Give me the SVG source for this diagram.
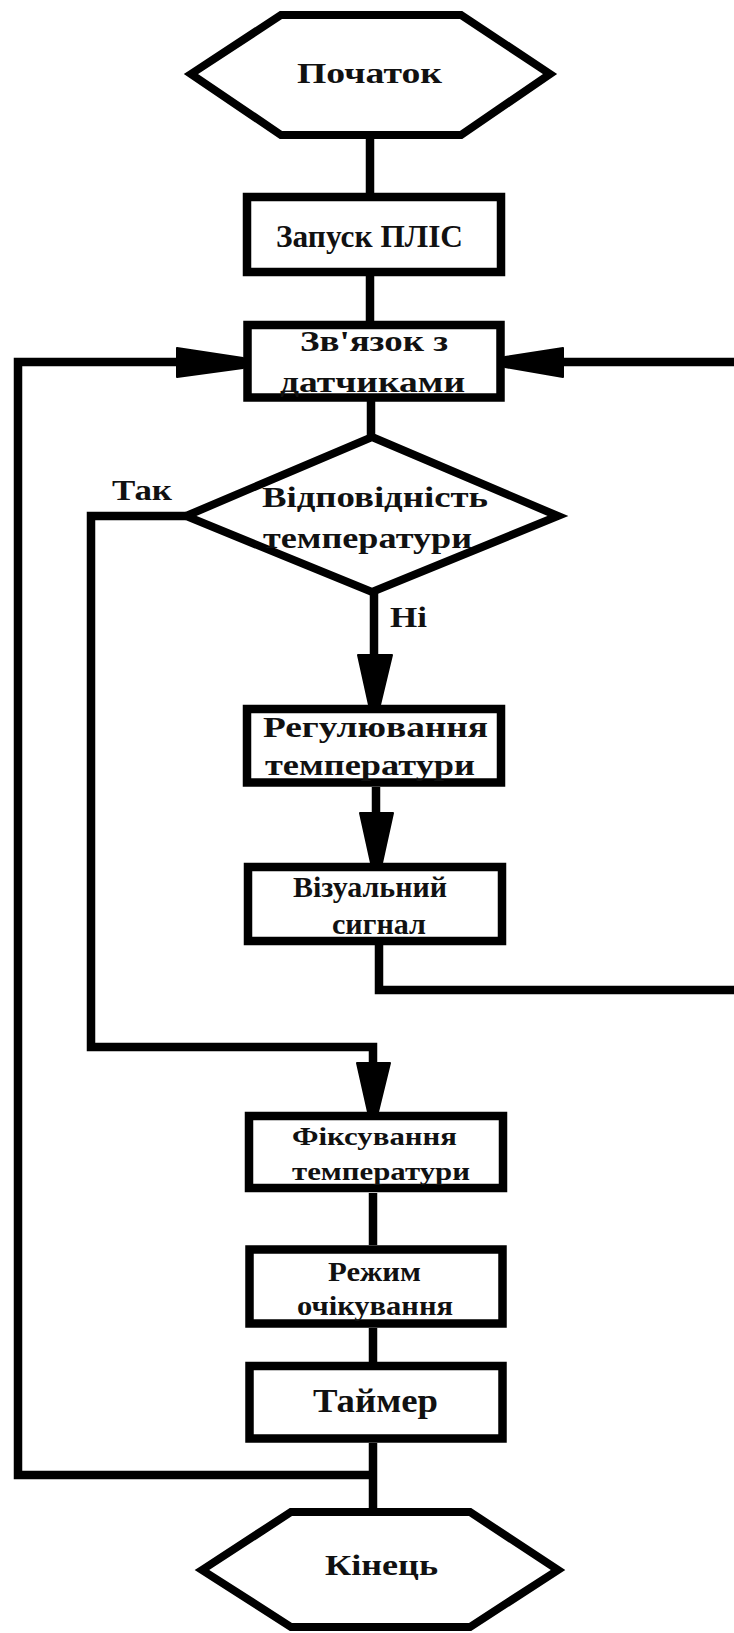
<svg xmlns="http://www.w3.org/2000/svg" width="734" height="1633" viewBox="0 0 734 1633">
<style>
.shape{fill:#fff;stroke:#000;stroke-width:8.5;stroke-linejoin:miter}
.hex{fill:#fff;stroke:#000;stroke-width:8;stroke-linejoin:miter}
.ln{fill:none;stroke:#000;stroke-width:8.5;stroke-linejoin:miter;stroke-linecap:butt}
.ah{fill:#000;stroke:#000;stroke-width:2;stroke-linejoin:round}
.t{font-family:"Liberation Serif","Times New Roman",serif;font-weight:bold;fill:#111;text-anchor:middle}
</style>
<rect width="734" height="1633" fill="#fff"/>
<g id="connectors">
<path class="ln" d="M370,135 V197"/>
<path class="ln" d="M370,272 V325"/>
<path class="ln" d="M371,397 V437"/>
<path class="ln" d="M374,592 V660"/>
<polygon class="ah" points="358,655 392,655 380,705 369,705"/>
<path class="ln" d="M376,787 V818"/>
<polygon class="ah" points="360,813 393,813 382,863 371,863"/>
<path class="ln" d="M379,945 V990 H740"/>
<path class="ln" d="M740,362 H560"/>
<polygon class="ah" points="563,348 563,377 505,367 505,357"/>
<path class="ln" d="M186,516 H91 V1047 H373 V1068"/>
<polygon class="ah" points="357,1063 390,1063 378,1112 368,1112"/>
<path class="ln" d="M373,1193 V1245"/>
<path class="ln" d="M373,1328 V1362"/>
<path class="ln" d="M373,1443 V1512"/>
<path class="ln" d="M373,1475 H18 V362 H182"/>
<polygon class="ah" points="177,348 177,377 243,368 243,358"/>
</g>
<g id="start">
<polygon class="hex" points="191,74 281,15 461,15 550,74 461,135 281,135"/>
<text class="t" x="369.5" y="83" font-size="30" textLength="145" lengthAdjust="spacingAndGlyphs">Початок</text>
</g>
<g id="launch">
<rect class="shape" x="247" y="197" width="254" height="75"/>
<text class="t" x="369.5" y="247" font-size="32" textLength="187" lengthAdjust="spacingAndGlyphs">Запуск ПЛІС</text>
</g>
<g id="sensors">
<rect class="shape" x="247.5" y="325" width="253" height="72.5"/>
<text class="t" x="374" y="351" font-size="29" textLength="148" lengthAdjust="spacingAndGlyphs">Зв'язок з</text>
<text class="t" x="372.5" y="392" font-size="30" textLength="185" lengthAdjust="spacingAndGlyphs">датчиками</text>
</g>
<g id="decision">
<polygon class="hex" points="372,437 558,516 372,592 186,516"/>
<text class="t" x="375" y="507" font-size="30" textLength="226" lengthAdjust="spacingAndGlyphs">Відповідність</text>
<text class="t" x="367.5" y="548" font-size="30" textLength="209" lengthAdjust="spacingAndGlyphs">температури</text>
<text class="t" x="142" y="500" font-size="29" textLength="60" lengthAdjust="spacingAndGlyphs">Так</text>
<text class="t" x="408.5" y="627" font-size="30" textLength="37" lengthAdjust="spacingAndGlyphs">Ні</text>
</g>
<g id="regulate">
<rect class="shape" x="247" y="709" width="254" height="73.5"/>
<text class="t" x="375.5" y="737" font-size="29" textLength="225" lengthAdjust="spacingAndGlyphs">Регулювання</text>
<text class="t" x="370" y="775" font-size="29" textLength="210" lengthAdjust="spacingAndGlyphs">температури</text>
</g>
<g id="visual">
<rect class="shape" x="248" y="867" width="254" height="74"/>
<text class="t" x="370" y="897" font-size="30" textLength="154" lengthAdjust="spacingAndGlyphs">Візуальний</text>
<text class="t" x="379" y="934" font-size="30" textLength="94" lengthAdjust="spacingAndGlyphs">сигнал</text>
</g>
<g id="record">
<rect class="shape" x="249" y="1116" width="254" height="72"/>
<text class="t" x="374.5" y="1145" font-size="26" textLength="165" lengthAdjust="spacingAndGlyphs">Фіксування</text>
<text class="t" x="381" y="1180" font-size="26" textLength="178" lengthAdjust="spacingAndGlyphs">температури</text>
</g>
<g id="standby">
<rect class="shape" x="249.5" y="1249.5" width="253" height="74"/>
<text class="t" x="374.5" y="1281" font-size="27" textLength="93" lengthAdjust="spacingAndGlyphs">Режим</text>
<text class="t" x="375" y="1315" font-size="27" textLength="156" lengthAdjust="spacingAndGlyphs">очікування</text>
</g>
<g id="timer">
<rect class="shape" x="249.5" y="1366" width="253" height="72.5"/>
<text class="t" x="375.5" y="1412" font-size="34" textLength="125" lengthAdjust="spacingAndGlyphs">Таймер</text>
</g>
<g id="end">
<polygon class="hex" points="202,1570 291,1512 470,1512 558,1570 470,1627 291,1627"/>
<text class="t" x="381.5" y="1575" font-size="30" textLength="113" lengthAdjust="spacingAndGlyphs">Кінець</text>
</g>
</svg>
